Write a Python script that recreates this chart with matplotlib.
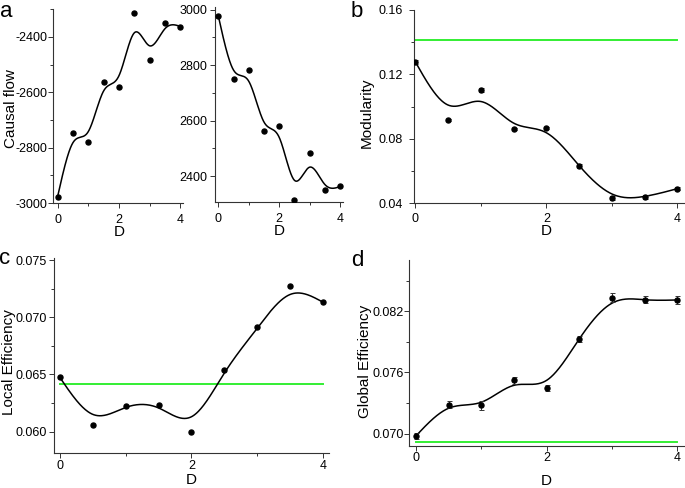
"""Four-panel network metrics vs D (causal flow, modularity, efficiencies)."""

import matplotlib
matplotlib.use("Agg")
import matplotlib.pyplot as plt
import numpy as np
from matplotlib.ticker import FixedLocator, FormatStrFormatter

plt.rcParams["font.family"] = ["Liberation Sans", "DejaVu Sans"]
plt.rcParams["axes.unicode_minus"] = False

# ---- data ----
d_vals = [0, 0.5, 1, 1.5, 2, 2.5, 3, 3.5, 4]

flow_in = [-2977, -2748, -2781, -2563, -2579, -2313, -2483, -2348, -2363]
flow_in_fit = [-2977, -2782, -2742, -2595, -2540, -2385, -2432, -2370, -2362]
flow_out = [2977, 2749, 2781, 2562, 2579, 2312, 2483, 2350, 2364]
flow_out_fit = [2977, 2782, 2742, 2595, 2540, 2385, 2432, 2370, 2362]

modularity = [0.1279, 0.0918, 0.1106, 0.0862, 0.0867, 0.0629, 0.0435, 0.0439, 0.0491]
modularity_err = [0.0012, 0.0006, 0.0012, 0.0006, 0.0006, 0.0012, 0.0012, 0.0012, 0.0008]
modularity_fit = [0.1279, 0.1010, 0.1032, 0.0898, 0.0838, 0.0634, 0.0458, 0.0443, 0.0491]
modularity_ref = 0.1416

local_eff = [0.06477, 0.06059, 0.06224, 0.06229, 0.05994, 0.06535, 0.06916, 0.07273, 0.07134]
local_eff_fit = [0.06470, 0.06150, 0.06212, 0.06207, 0.06130, 0.06512, 0.06904, 0.07200, 0.07134]
local_eff_ref = 0.06421

global_eff = [0.06977, 0.07284, 0.07278, 0.07523, 0.07448, 0.07928, 0.08335, 0.08315, 0.08311]
global_eff_err = [0.00033, 0.00035, 0.00042, 0.00033, 0.00033, 0.00030, 0.00040, 0.00038, 0.00035]
global_eff_fit = [0.06977, 0.07249, 0.07308, 0.07474, 0.07523, 0.07930, 0.08280, 0.08313, 0.08311]
global_eff_ref = 0.06922

W, H = 685, 488
GREEN = "#33ee33"


def natural_spline(x, y, xs):
    """Natural cubic spline through (x, y), evaluated at xs."""
    x = np.asarray(x, float)
    y = np.asarray(y, float)
    n = len(x)
    h = np.diff(x)
    A = np.zeros((n, n))
    r = np.zeros(n)
    A[0, 0] = A[-1, -1] = 1
    for i in range(1, n - 1):
        A[i, i - 1] = h[i - 1]
        A[i, i] = 2 * (h[i - 1] + h[i])
        A[i, i + 1] = h[i]
        r[i] = 3 * ((y[i + 1] - y[i]) / h[i] - (y[i] - y[i - 1]) / h[i - 1])
    c = np.linalg.solve(A, r)
    b = (y[1:] - y[:-1]) / h - h * (2 * c[:-1] + c[1:]) / 3
    d = (c[1:] - c[:-1]) / (3 * h)
    idx = np.clip(np.searchsorted(x, xs) - 1, 0, n - 2)
    dx = xs - x[idx]
    return y[idx] + b[idx] * dx + c[idx] * dx ** 2 + d[idx] * dx ** 3


def px_axes(fig, left, top, right, bottom):
    return fig.add_axes([left / W, 1 - bottom / H, (right - left) / W, (bottom - top) / H])


def style(ax, xlim, ylim, ymajor, yminor, fmt, xpad, ypad):
    ax.set_xlim(*xlim)
    ax.set_ylim(*ylim)
    for s in ("top", "right"):
        ax.spines[s].set_visible(False)
    for s in ("left", "bottom"):
        ax.spines[s].set_linewidth(0.8)
        ax.spines[s].set_color("#333333")
    ax.xaxis.set_major_locator(FixedLocator([0, 2, 4]))
    ax.xaxis.set_minor_locator(FixedLocator([1, 3]))
    ax.yaxis.set_major_locator(FixedLocator(ymajor))
    ax.yaxis.set_minor_locator(FixedLocator(yminor))
    ax.yaxis.set_major_formatter(FormatStrFormatter(fmt))
    ax.tick_params(which="major", length=3.3, width=0.7, color="#333333", labelsize=9)
    ax.tick_params(which="minor", length=2, width=0.7, color="#333333")
    ax.tick_params(axis="x", which="major", pad=xpad)
    ax.tick_params(axis="y", which="major", pad=ypad)


def draw(ax, y, fit, err=None, ref=None):
    xs = np.linspace(d_vals[0], d_vals[-1], 400)
    if ref is not None:
        ax.plot([d_vals[0], d_vals[-1]], [ref, ref], color=GREEN, lw=1.4, zorder=1)
    ax.plot(xs, natural_spline(d_vals, fit, xs), color="black", lw=1.1, zorder=2)
    if err is None:
        ax.plot(d_vals, y, "o", color="black", ms=3.6, zorder=3)
    else:
        ax.errorbar(d_vals, y, yerr=err, fmt="o", color="black", ms=3.6,
                    elinewidth=0.7, capsize=1.8, capthick=0.7, ecolor="#333333", zorder=3)


def labels(ax, ylabel, ylab_x, ylab_y, xlab_y):
    x0, x1 = ax.get_xlim()
    ax.set_xlabel("D", fontsize=11)
    ax.set_ylabel(ylabel, fontsize=11)
    ax.xaxis.set_label_coords((2 - x0) / (x1 - x0), xlab_y)
    ax.yaxis.set_label_coords(ylab_x, ylab_y)


fig = plt.figure(figsize=(W / 100, H / 100), dpi=100)

# a: causal flow (two sub-panels)
ax = px_axes(fig, 53, 9.3, 183.4, 203)
style(ax, (-0.15, 4.1), (-3000, -2300), [-3000, -2800, -2600, -2400],
      [-2900, -2700, -2500, -2300], "%d", 4.5, 1.0)
draw(ax, flow_in, flow_in_fit)
labels(ax, "Causal flow", -0.267, 0.485, -0.113)

ax = px_axes(fig, 215, 6.9, 343, 202.4)
style(ax, (-0.11, 4.1), (2305, 3010), [2400, 2600, 2800, 3000],
      [2500, 2700, 2900], "%d", 4.5, 2.4)
draw(ax, flow_out, flow_out_fit)
ax.set_xlabel("D", fontsize=11)
ax.xaxis.set_label_coords((2 + 0.11) / 4.21, -0.113)

# b: modularity
ax = px_axes(fig, 414.3, 10, 684, 203.3)
style(ax, (-0.015, 4.1), (0.04, 0.16), [0.04, 0.08, 0.12, 0.16],
      [0.06, 0.10, 0.14], "%.2f", 3.6, 5.0)
draw(ax, modularity, modularity_fit, modularity_err, modularity_ref)
labels(ax, "Modularity", -0.152, 0.466, -0.107)

# c: local efficiency
ax = px_axes(fig, 54.3, 258, 329.3, 453.3)
style(ax, (-0.09, 4.1), (0.0581, 0.0752), [0.060, 0.065, 0.070, 0.075],
      [0.0625, 0.0675, 0.0725], "%.3f", 1.3, 2.4)
draw(ax, local_eff, local_eff_fit, ref=local_eff_ref)
labels(ax, "Local Efficiency", -0.141, 0.469, -0.101)

# d: global efficiency
ax = px_axes(fig, 409.3, 260.3, 684, 445.9)
style(ax, (-0.1, 4.1), (0.0688, 0.087), [0.070, 0.076, 0.082],
      [0.073, 0.079, 0.085], "%.3f", 1.0, 0.8)
draw(ax, global_eff, global_eff_fit, global_eff_err, global_eff_ref)
labels(ax, "Global Efficiency", -0.134, 0.454, -0.149)

# panel letters
for letter, x, y in [("a", 0, 16.7), ("b", 351, 16.7), ("c", -1, 264), ("d", 351, 265.7)]:
    fig.text(x / W, 1 - y / H, letter, fontsize=16, va="baseline", ha="left")

fig.savefig("out.png", dpi=100)
